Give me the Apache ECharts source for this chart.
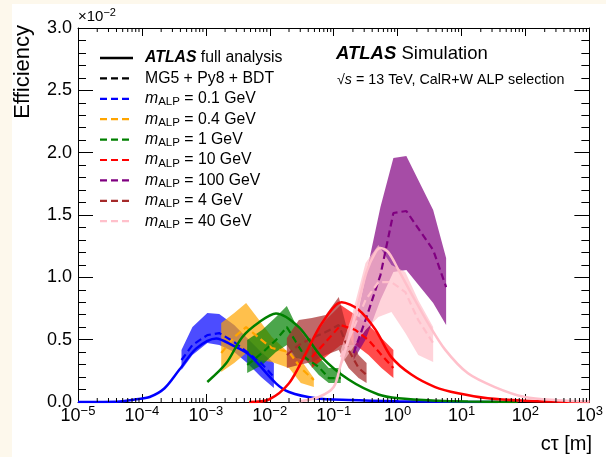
<!DOCTYPE html>
<html>
<head>
<meta charset="utf-8">
<script src="https://cdn.jsdelivr.net/npm/echarts@6/dist/echarts.min.js"></script>
<style>
  html, body { margin: 0; padding: 0; background: #fdf8ec; }
  #main { position: absolute; left: 12px; top: 4px; width: 594px; height: 453px; background: #fff; }
</style>
</head>
<body>
<div id="main"></div>
<script>
// efficiency values are in units of 1e-2, ctau in metres

// ATLAS full analysis (solid curves)
const fullBlueX = [1e-5, 4.5e-5, 7.7e-5, 1.32e-4, 2.26e-4, 3.87e-4, 7.1e-4, 1.46e-3, 2.49e-3, 4.75e-3, 1.25e-2, 2.0e-2, 5.25e-2, 0.171, 1.03, 6.2, 37];
const fullBlueY = [0, 0.005, 0.02, 0.04, 0.11, 0.26, 0.43, 0.51, 0.46, 0.38, 0.15, 0.08, 0.03, 0.016, 0.006, 0.002, 0];
const fullGreenX = [1.055e-3, 2.08e-3, 3.7e-3, 6.81e-3, 1.25e-2, 2.85e-2, 6.5e-2, 0.171, 0.501, 1.03, 4.31, 12.6, 75.7];
const fullGreenY = [0.16, 0.31, 0.52, 0.64, 0.71, 0.60, 0.36, 0.18, 0.06, 0.03, 0.01, 0.004, 0];
const fullRedX = [4.75e-3, 9.7e-3, 2.0e-2, 3.66e-2, 6.5e-2, 0.133, 0.245, 0.451, 0.80, 1.64, 3.87, 8.83, 25.8, 97.3, 318, 1000];
const fullRedY = [0, 0.02, 0.15, 0.39, 0.63, 0.80, 0.74, 0.58, 0.36, 0.22, 0.12, 0.07, 0.03, 0.01, 0.003, 0.001];
const fullPinkX = [2.85e-2, 5.85e-2, 0.1, 0.129, 0.171, 0.245, 0.33, 0.45, 0.539, 0.718, 1.03, 1.64, 3.01, 5.53, 12.6, 33.2, 97.3, 318, 1000];
const fullPinkY = [0.005, 0.04, 0.12, 0.3, 0.5, 0.8, 1.05, 1.2, 1.235, 1.20, 1.06, 0.87, 0.63, 0.42, 0.23, 0.12, 0.04, 0.015, 0.005];

// MG5 + Py8 + BDT (dashed central value and band)
const mgBlueX = [4.16e-4, 6.17e-4, 1.055e-3, 1.62e-3, 2.78e-3, 4.43e-3, 7.31e-3, 1.16e-2];
const mgBlueUp = [0.417, 0.601, 0.714, 0.706, 0.617, 0.513, 0.401, 0.313];
const mgBlueMid = [0.337, 0.457, 0.537, 0.553, 0.481, 0.401, 0.313, 0.200];
const mgBlueLo = [0.257, 0.377, 0.473, 0.457, 0.401, 0.313, 0.200, 0.112];

const mgOrangeX = [1.74e-3, 2.78e-3, 4.27e-3, 6.81e-3, 1.08e-2, 2.0e-2, 3.06e-2, 4.89e-2];
const mgOrangeUp = [0.634, 0.714, 0.794, 0.658, 0.521, 0.393, 0.337, 0.192];
const mgOrangeMid = [0.393, 0.521, 0.601, 0.513, 0.433, 0.401, 0.273, 0.176];
const mgOrangeLo = [0.241, 0.313, 0.393, 0.337, 0.321, 0.273, 0.152, 0.120];

const mgGreenX = [4.43e-3, 7.57e-3, 1.25e-2, 1.85e-2, 2.57e-2, 3.66e-2, 5.85e-2, 8.36e-2, 0.129];
const mgGreenUp = [0.497, 0.577, 0.682, 0.770, 0.617, 0.513, 0.361, 0.273, 0.273];
const mgGreenMid = [0.297, 0.393, 0.497, 0.601, 0.481, 0.353, 0.281, 0.192, 0.192];
const mgGreenLo = [0.233, 0.297, 0.401, 0.457, 0.353, 0.337, 0.217, 0.152, 0.152];

const mgRedX = [4.55e-2, 7.5e-2, 0.129, 0.220, 0.351, 0.559, 0.859];
const mgRedUp = [0.497, 0.658, 0.778, 0.698, 0.617, 0.513, 0.417];
const mgRedMid = [0.361, 0.481, 0.617, 0.577, 0.497, 0.377, 0.273];
const mgRedLo = [0.273, 0.361, 0.457, 0.457, 0.377, 0.273, 0.192];

const mgPurpleX = [0.205, 0.315, 0.539, 0.859, 1.37, 3.60, 5.74];
const mgPurpleUp = [0.55, 1.0, 1.564, 1.957, 1.973, 1.540, 1.155];
const mgPurpleMid = [0.393, 0.658, 1.018, 1.516, 1.532, 1.219, 0.922];
const mgPurpleLo = [0.337, 0.5, 0.818, 1.043, 1.059, 0.794, 0.617];

const mgBrownX = [1.85e-2, 2.85e-2, 4.55e-2, 7.5e-2, 0.120, 0.171, 0.245, 0.327];
const mgBrownUp = [0.513, 0.658, 0.674, 0.698, 0.842, 0.537, 0.377, 0.313];
const mgBrownMid = [0.377, 0.457, 0.513, 0.561, 0.617, 0.417, 0.273, 0.217];
const mgBrownLo = [0.273, 0.297, 0.321, 0.377, 0.417, 0.273, 0.192, 0.152];

const mgPinkX = [0.129, 0.190, 0.315, 0.501, 0.800, 1.32, 2.10, 3.60];
const mgPinkUp = [0.417, 0.682, 1.115, 1.259, 1.099, 1.043, 0.818, 0.601];
const mgPinkMid = [0.361, 0.553, 0.818, 0.962, 0.962, 0.882, 0.658, 0.473];
const mgPinkLo = [0.297, 0.417, 0.577, 0.682, 0.722, 0.553, 0.377, 0.321];

const massLabels = ['0.1', '0.4', '1', '10', '100', '4', '40'];
const yTicks = [0, 0.5, 1.0, 1.5, 2.0, 2.5, 3.0];
const decades = [-5, -4, -3, -2, -1, 0, 1, 2];
const minorMult = [2, 3, 4, 5, 6, 7, 8, 9];

const FONT = 'Liberation Sans, Arial, sans-serif';

const mg = [
  { x: mgBlueX, up: mgBlueUp, mid: mgBlueMid, lo: mgBlueLo, color: '#0000ff', fill: 'rgba(0,0,255,0.7)' },
  { x: mgOrangeX, up: mgOrangeUp, mid: mgOrangeMid, lo: mgOrangeLo, color: '#ffa500', fill: 'rgba(255,165,0,0.7)' },
  { x: mgGreenX, up: mgGreenUp, mid: mgGreenMid, lo: mgGreenLo, color: '#008000', fill: 'rgba(0,128,0,0.7)' },
  { x: mgRedX, up: mgRedUp, mid: mgRedMid, lo: mgRedLo, color: '#ff0000', fill: 'rgba(255,0,0,0.7)' },
  { x: mgPurpleX, up: mgPurpleUp, mid: mgPurpleMid, lo: mgPurpleLo, color: '#800080', fill: 'rgba(128,0,128,0.7)' },
  { x: mgBrownX, up: mgBrownUp, mid: mgBrownMid, lo: mgBrownLo, color: '#a52a2a', fill: 'rgba(165,42,42,0.7)' },
  { x: mgPinkX, up: mgPinkUp, mid: mgPinkMid, lo: mgPinkLo, color: '#ffc0cb', fill: 'rgba(255,192,203,0.7)' }
];
const full = [
  { x: fullBlueX, y: fullBlueY, color: '#0000ff' },
  { x: fullGreenX, y: fullGreenY, color: '#008000' },
  { x: fullRedX, y: fullRedY, color: '#ff0000' },
  { x: fullPinkX, y: fullPinkY, color: '#ffc0cb' }
];

const zip = (xs, ys) => xs.map((x, i) => [x, ys[i]]);

const series = [];
mg.forEach((m) => {
  series.push({
    type: 'custom',
    silent: true,
    data: m.x.map((x, i) => [x, m.lo[i], m.up[i]]),
    encode: { x: 0, y: [1, 2] },
    renderItem: (params, api) => {
      if (params.dataIndex !== 0) return null;
      const pts = [];
      m.x.forEach((x, i) => pts.push(api.coord([x, m.up[i]])));
      for (let i = m.x.length - 1; i >= 0; i--) pts.push(api.coord([m.x[i], m.lo[i]]));
      return { type: 'polygon', shape: { points: pts }, style: { fill: m.fill, stroke: null } };
    }
  });
  series.push({
    type: 'line',
    data: zip(m.x, m.mid),
    showSymbol: false,
    silent: true,
    lineStyle: { color: m.color, width: 2.2, type: [7, 4] }
  });
});
full.forEach((f) => {
  series.push({
    type: 'line',
    data: zip(f.x, f.y),
    showSymbol: false,
    silent: true,
    smooth: 0.3,
    lineStyle: { color: f.color, width: 2.5 }
  });
});

// minor ticks of the log axis, bottom and top
const minorTicks = [];
decades.forEach((d) => minorMult.forEach((k) => minorTicks.push(k * Math.pow(10, d))));
series.push({
  type: 'custom',
  silent: true,
  data: minorTicks.map((v) => [v]),
  encode: { x: 0 },
  renderItem: (params, api) => {
    const v = api.value(0);
    const b = api.coord([v, 0]);
    const t = api.coord([v, 3]);
    const ls = { stroke: '#000', lineWidth: 1 };
    return {
      type: 'group',
      children: [
        { type: 'line', shape: { x1: b[0], y1: b[1], x2: b[0], y2: b[1] - 4 }, style: ls },
        { type: 'line', shape: { x1: t[0], y1: t[1], x2: t[0], y2: t[1] + 4 }, style: ls }
      ]
    };
  },
  z: 10
});

// legend drawn by hand
const legendY0 = 54, legendDy = 20.4;
const legendRows = [
  { color: '#000', dash: null, text: '{b|ATLAS} full analysis' },
  { color: '#000', dash: [7, 4], text: 'MG5 + Py8 + BDT' }
].concat(mg.map((m, i) => ({ color: m.color, dash: [7, 4], text: '{i|m}{sub|ALP} = ' + massLabels[i] + ' GeV' })));

const legendRich = {
  b: { fontFamily: FONT, fontSize: 15.8, fontWeight: 'bold', fontStyle: 'italic', color: '#000' },
  i: { fontFamily: FONT, fontSize: 15.8, fontStyle: 'italic', color: '#000' },
  sub: { fontFamily: FONT, fontSize: 11.5, color: '#000', padding: [7, 0, 0, 0] }
};

const graphic = [];
legendRows.forEach((r, i) => {
  const y = legendY0 + i * legendDy;
  graphic.push({
    type: 'line',
    shape: { x1: 88, y1: y, x2: 121, y2: y },
    style: { stroke: r.color, lineWidth: r.dash ? 2.2 : 2.5, lineDash: r.dash || null }
  });
  graphic.push({
    type: 'text',
    x: 133, y: y,
    style: { text: r.text, rich: legendRich, fontFamily: FONT, fontSize: 15.8, fill: '#000', verticalAlign: 'middle', align: 'left' }
  });
});
graphic.push(
  {
    type: 'text', x: 324, y: 50,
    style: {
      text: '{b|ATLAS} Simulation', fontFamily: FONT, fontSize: 18.5, fill: '#000', verticalAlign: 'middle',
      rich: { b: { fontFamily: FONT, fontSize: 18.5, fontWeight: 'bold', fontStyle: 'italic', color: '#000' } }
    }
  },
  {
    type: 'text', x: 325, y: 76,
    style: {
      text: '√{i|s} = 13 TeV, CalR+W ALP selection', fontFamily: FONT, fontSize: 14.3, fill: '#000', verticalAlign: 'middle',
      rich: { i: { fontFamily: FONT, fontSize: 14.3, fontStyle: 'italic', color: '#000' } }
    }
  },
  {
    type: 'text', x: 66, y: 13,
    style: {
      text: '×10{sup|−2}', fontFamily: FONT, fontSize: 15, fill: '#000', verticalAlign: 'middle',
      rich: { sup: { fontFamily: FONT, fontSize: 11, color: '#000', padding: [0, 0, 8, 0] } }
    }
  },
  {
    type: 'text', x: 11, y: 21, rotation: Math.PI / 2,
    style: { text: 'Efficiency', fontFamily: FONT, fontSize: 22, fill: '#000', align: 'right', verticalAlign: 'middle' }
  },
  {
    type: 'text', x: 580, y: 440,
    style: { text: 'cτ [m]', fontFamily: FONT, fontSize: 20, fill: '#000', align: 'right', verticalAlign: 'middle' }
  }
);

const xAxisBase = {
  type: 'log',
  logBase: 10,
  min: 1e-5,
  max: 1e3,
  interval: 1,
  splitLine: { show: false },
  axisLine: { show: true, onZero: false, lineStyle: { color: '#000', width: 1 } },
  axisTick: { show: true, inside: true, length: 8, lineStyle: { color: '#000' } }
};
const yAxisBase = {
  type: 'value',
  min: 0,
  max: 3,
  interval: 0.5,
  splitLine: { show: false },
  axisLine: { show: true, lineStyle: { color: '#000', width: 1 } },
  axisTick: { show: true, inside: true, length: 15, lineStyle: { color: '#000' } },
  minorTick: { show: true, splitNumber: 5, length: 8, lineStyle: { color: '#000' } }
};

const chart = echarts.init(document.getElementById('main'), null, { renderer: 'canvas' });
chart.setOption({
  backgroundColor: '#fff',
  animation: false,
  grid: { left: 66, right: 14, top: 24, bottom: 55 },
  xAxis: [
    Object.assign({}, xAxisBase, {
      position: 'bottom',
      axisLabel: {
        margin: 3,
        color: '#000',
        fontFamily: FONT,
        fontSize: 18,
        formatter: (v) => {
          const e = Math.round(Math.log10(v));
          return '10{sup|' + (e < 0 ? '−' + (-e) : e) + '}';
        },
        rich: { sup: { fontFamily: FONT, fontSize: 13, color: '#000', padding: [0, 0, 9, 0] } }
      }
    }),
    Object.assign({}, xAxisBase, { position: 'top', axisLabel: { show: false } })
  ],
  yAxis: [
    Object.assign({}, yAxisBase, {
      position: 'left',
      axisLabel: {
        margin: 6,
        color: '#000',
        fontFamily: FONT,
        fontSize: 18,
        formatter: (v) => (yTicks.indexOf(v) >= 0 ? v.toFixed(1) : '')
      }
    }),
    Object.assign({}, yAxisBase, { position: 'right', axisLabel: { show: false } })
  ],
  series: series,
  graphic: graphic
});
</script>
</body>
</html>
